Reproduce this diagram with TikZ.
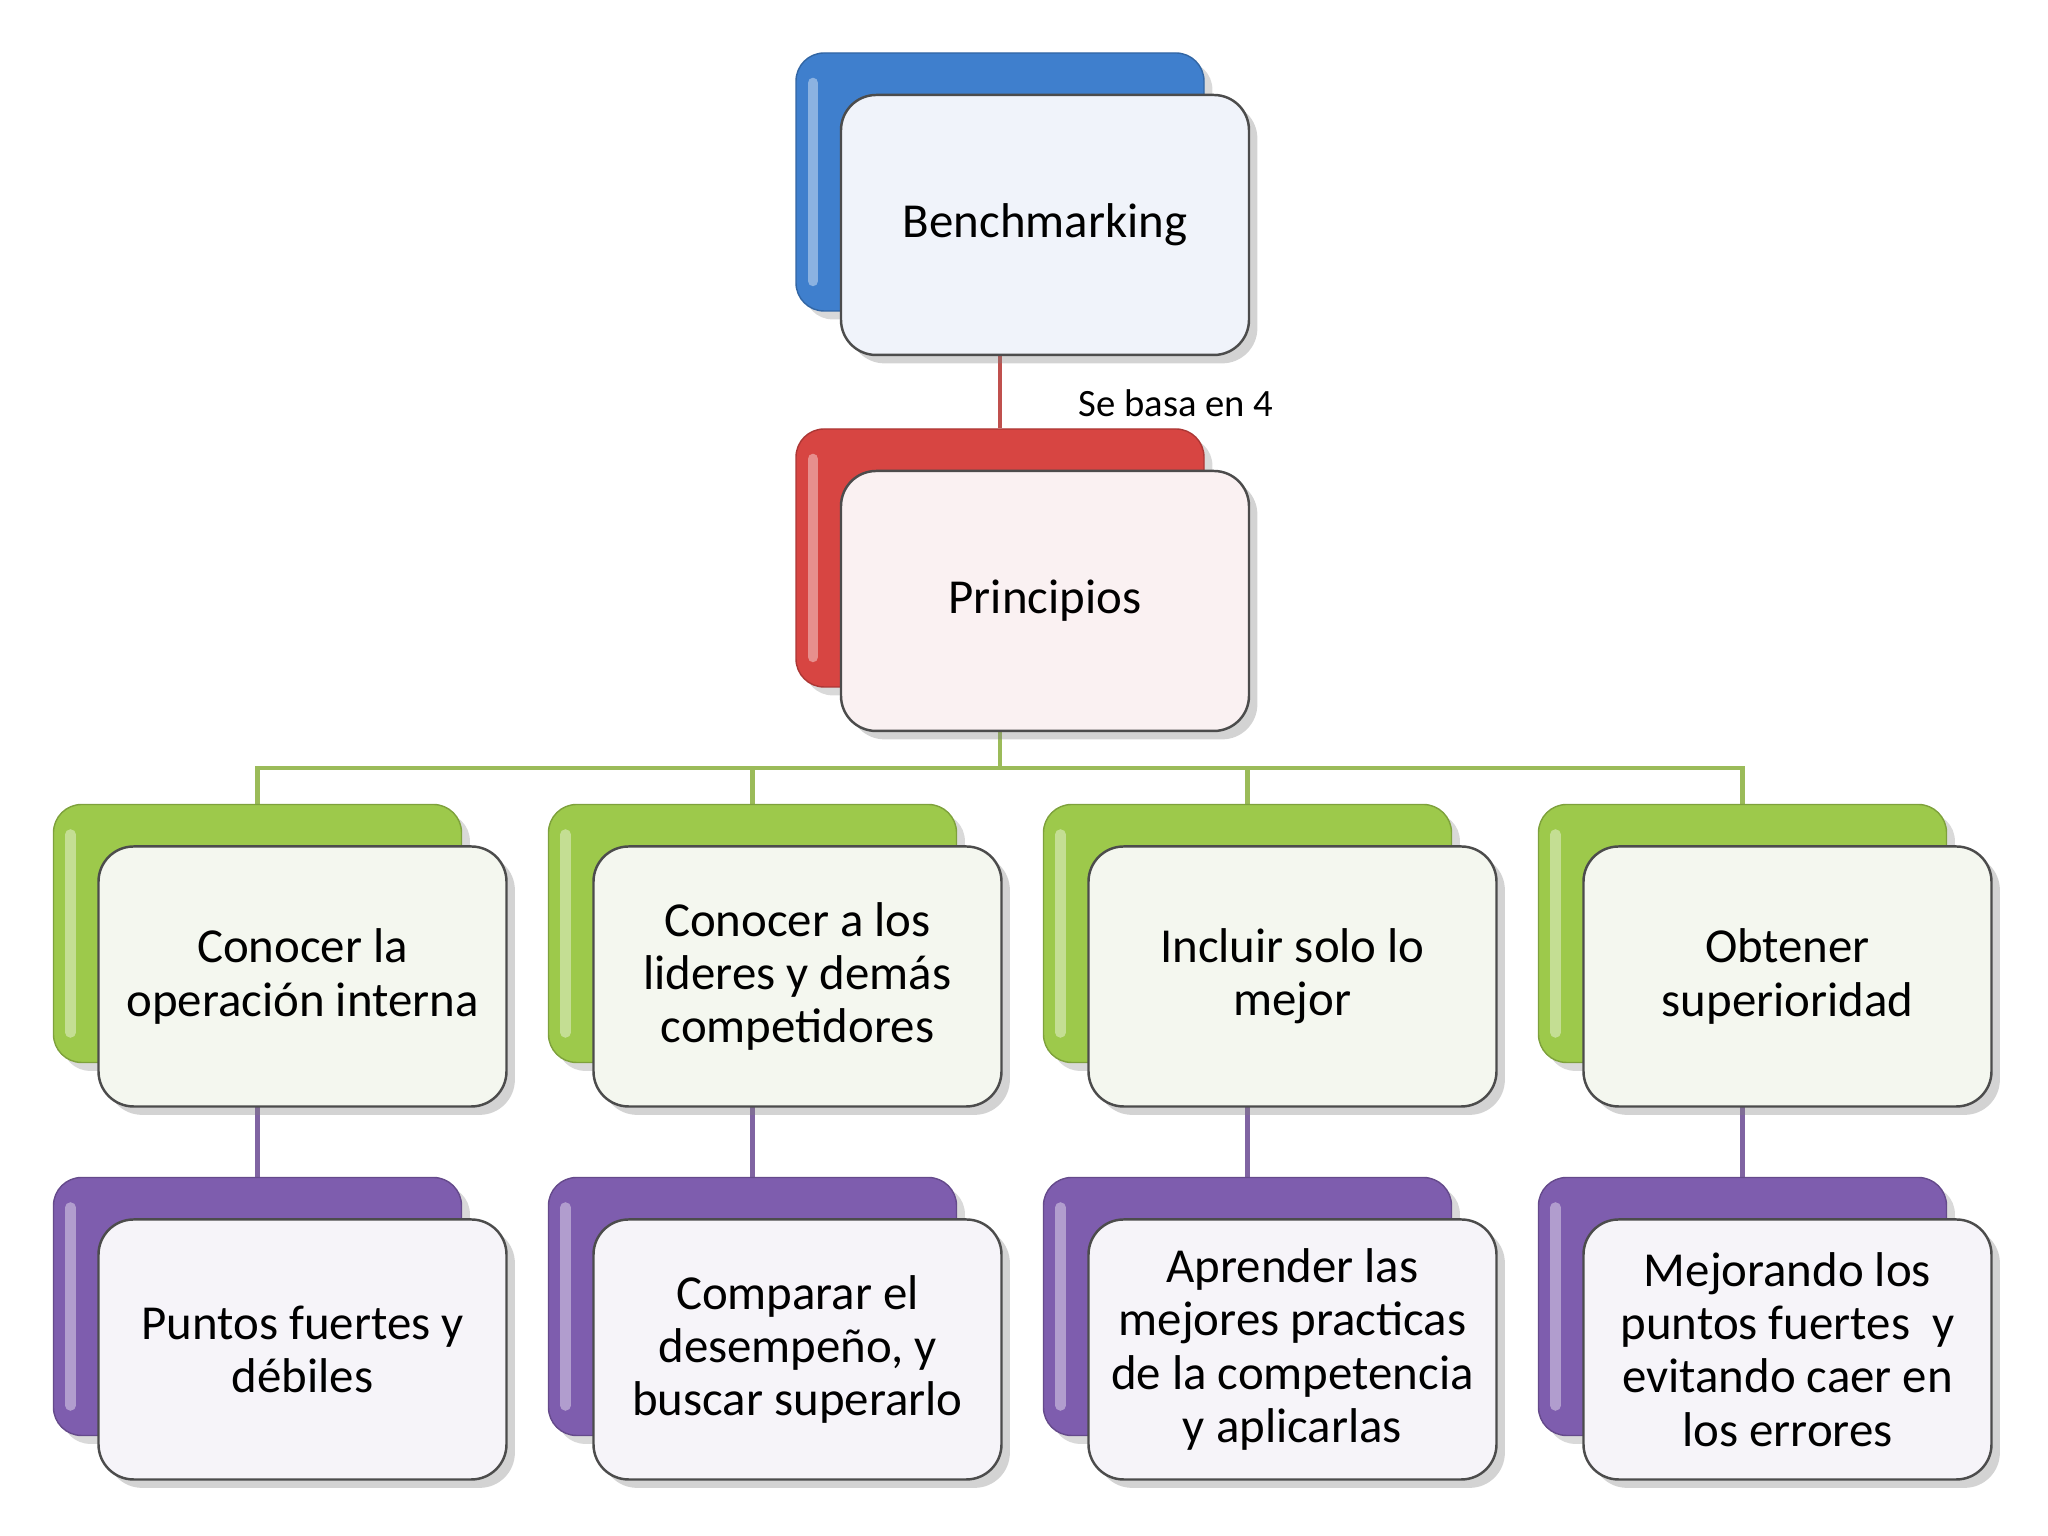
\documentclass[tikz,border=0pt]{standalone}
\usepackage{fontspec}
\setmainfont{Carlito}
\usepackage{tikz}
\usetikzlibrary{positioning,calc,shadows,backgrounds}

\definecolor{cblue}{HTML}{3F7FCD}
\definecolor{cred}{HTML}{D74542}
\definecolor{cgreen}{HTML}{9DC94B}
\definecolor{cpurple}{HTML}{7E5DAE}
\definecolor{tblue}{HTML}{F0F3FA}
\definecolor{tred}{HTML}{FAF1F2}
\definecolor{tgreen}{HTML}{F4F7EF}
\definecolor{tpurple}{HTML}{F6F4F9}
\definecolor{lred}{HTML}{C0504D}
\definecolor{lgreen}{HTML}{9BBB59}
\definecolor{lpurple}{HTML}{8064A2}

\begin{document}
\begin{tikzpicture}[
  font=\fontsize{13.9}{15.2}\selectfont,
  back/.style={draw=#1!80!black, fill=#1, rounded corners=8pt,
    minimum width=4.08cm, minimum height=2.58cm, inner sep=0pt,
    drop shadow={opacity=0.3},
    path picture={\draw[white, opacity=0.4, line width=3pt, line cap=round]
      ($(path picture bounding box.north west)+(0.17,-0.3)$) --
      ($(path picture bounding box.south west)+(0.17,0.3)$);}},
  card/.style={draw=black!70, fill=#1, rounded corners=10pt, line width=0.7pt,
    minimum width=4.08cm, minimum height=2.6cm, align=center, inner sep=2pt,
    drop shadow={opacity=0.35}},
  link/.style={draw=#1, line width=1.4pt},
]
\useasboundingbox (0,0) rectangle (20.48,15.36);
\def\dx{4.95}  % column spacing
\def\ox{0.45}  % card offset from back box
\def\oy{0.43}
% top levels
\node[back=cblue] (bback) at (10.0,13.54) {};
\node[card=tblue] (bench) at ({10.0+\ox},{13.54-\oy}) {Benchmarking};
\node[back=cred] (pback) at (10.0,9.78) {};
\node[card=tred] (prin) at ({10.0+\ox},{9.78-\oy}) {Principios};
\node[font=\fontsize{11}{13}\selectfont] (basa) at (11.76,11.33) {Se basa en 4};
% principles (green row)
\foreach \i/\txt in {0/{Conocer la\\operación interna},
                     1/{Conocer a los\\lideres y demás\\competidores},
                     2/{Incluir solo lo\\mejor},
                     3/{Obtener\\superioridad}}{
  \node[back=cgreen] (gb\i) at ({2.575+\i*\dx},6.025) {};
  \node[card=tgreen] (g\i) at ({2.575+\i*\dx+\ox},{6.025-\oy}) {\txt};
}
% details (purple row)
\foreach \i/\txt in {0/{Puntos fuertes y\\débiles},
                     1/{Comparar el\\desempeño, y\\buscar superarlo},
                     2/{Aprender las\\mejores practicas\\de la competencia\\y aplicarlas},
                     3/{Mejorando los\\puntos fuertes~ y\\evitando caer en\\los errores}}{
  \node[back=cpurple] (pb\i) at ({2.575+\i*\dx},2.295) {};
  \node[card=tpurple] (p\i) at ({2.575+\i*\dx+\ox},{2.295-\oy}) {\txt};
}
% connectors
\begin{scope}[on background layer]
  \coordinate (bus) at (10.0,7.68);
  \draw[link=lred] (bback) -- (pback);
  \draw[link=lgreen] (pback) -- (bus);
  \foreach \i in {0,...,3}{
    \draw[link=lgreen] (bus) -| (gb\i);
    \draw[link=lpurple] (gb\i) -- (pb\i);
  }
\end{scope}
\end{tikzpicture}
\end{document}
